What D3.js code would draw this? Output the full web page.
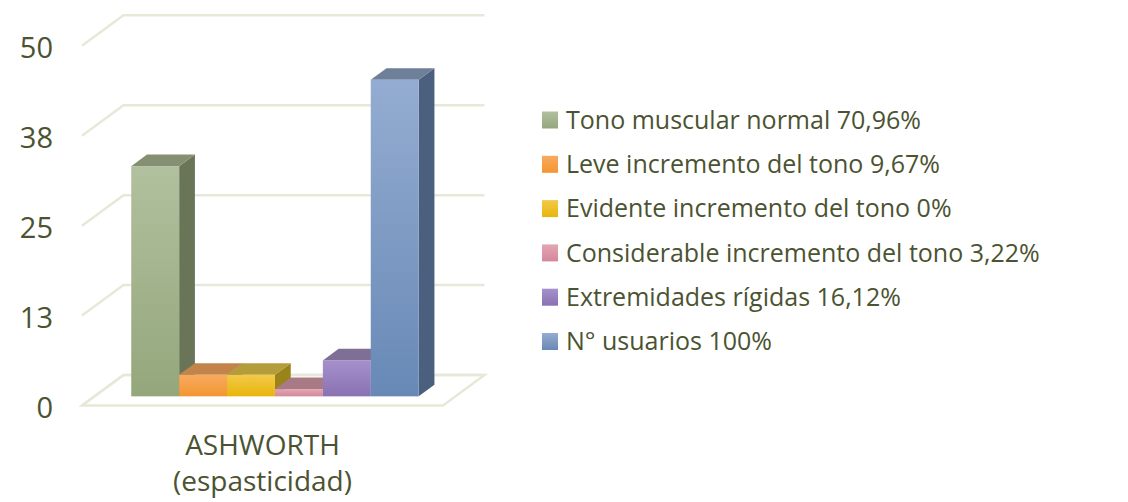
<!DOCTYPE html>
<html>
<head>
<meta charset="utf-8">
<script src="https://cdn.jsdelivr.net/npm/d3@7"></script>
<style>
  body { margin: 0; background: #fff; }
  text { font-family: "Open Sans", sans-serif; fill: #4b5331; }
</style>
</head>
<body>
<div id="chart"></div>
<script>
// data
var category = "ASHWORTH";
var seriesNames = [
  "Tono muscular normal 70,96%",
  "Leve incremento del tono 9,67%",
  "Evidente incremento del tono 0%",
  "Considerable incremento del tono 3,22%",
  "Extremidades rígidas 16,12%",
  "N° usuarios 100%"
];
var seriesValues = [32, 3, 3, 1, 5, 44];
var tickValues = [0, 12.5, 25, 37.5, 50];
var tickLabels = ["0", "13", "25", "38", "50"];

// front-top, front-bottom, top face, side face
var palette = [
  ["#b1c09e", "#94a77c", "#858f72", "#6a7558"],
  ["#f9aa5f", "#f29631", "#c2844b", "#a86a26"],
  ["#f2c94a", "#e8b60a", "#b39c3a", "#9a8318"],
  ["#e2a6b4", "#d4879c", "#a87a86", "#9a6476"],
  ["#a690cc", "#8a72b2", "#7f6f95", "#67567f"],
  ["#94acd1", "#6889b6", "#6d7f99", "#4b5f7e"]
];

var width = 1128, height = 502;
var depth = { dx: 41.5, dy: -30.5 };      // full floor depth
var barDepth = { from: 0.3, to: 0.68 };   // bars sit in the middle of the floor

var svg = d3.select("#chart").append("svg")
  .attr("width", width)
  .attr("height", height);

var defs = svg.append("defs");

// value scale on the back wall
var yScale = d3.scaleLinear().domain([0, 50]).range([375, 15.3]);

// category along the front edge of the floor
var xCat = d3.scaleBand().domain([category]).range([82, 443]).paddingOuter(0.128);
var xSeries = d3.scaleBand().domain(seriesNames).range([0, xCat.bandwidth()]);

function project(x, v, d) {
  // x on the front edge, value v, depth fraction d (0 front, 1 back)
  return [x + d * depth.dx, yScale(v) + (1 - d) * (-depth.dy)];
}

var gridColor = "#e7e9d8";
var x0 = xCat.range()[0], x1 = xCat.range()[1];

// gridlines: back wall + left side
var grid = svg.append("g");
tickValues.forEach(function(v) {
  var a = project(x0, v, 0), b = project(x0, v, 1), c = project(x1, v, 1);
  grid.append("polyline")
    .attr("points", [a, b, c].map(function(p) { return p.join(","); }).join(" "))
    .attr("fill", "none")
    .attr("stroke", gridColor)
    .attr("stroke-width", 2.5);
});

// floor outline
var floorPts = [project(x0, 0, 0), project(x1, 0, 0), project(x1, 0, 1), project(x0, 0, 1)];
grid.append("polygon")
  .attr("points", floorPts.map(function(p) { return p.join(","); }).join(" "))
  .attr("fill", "none")
  .attr("stroke", gridColor)
  .attr("stroke-width", 2.5);

// axis labels
svg.append("g").selectAll("text")
  .data(tickValues)
  .enter().append("text")
    .attr("x", 53)
    .attr("y", function(d) { return project(x0, d, 0)[1] + 2; })
    .attr("dy", "0.35em")
    .attr("text-anchor", "end")
    .style("font-size", "29px")
    .text(function(d, i) { return tickLabels[i]; });

// gradients
palette.forEach(function(c, i) {
  var g = defs.append("linearGradient")
    .attr("id", "grad" + i)
    .attr("x1", 0).attr("y1", 0).attr("x2", 0).attr("y2", 1);
  g.append("stop").attr("offset", "0%").attr("stop-color", c[0]);
  g.append("stop").attr("offset", "100%").attr("stop-color", c[1]);
});

function pts(arr) { return arr.map(function(p) { return p.join(","); }).join(" "); }

var bars = svg.append("g");
seriesNames.forEach(function(name, i) {
  var v = seriesValues[i];
  var xl = xCat(category) + xSeries(name);
  var xr = xl + xSeries.bandwidth();
  var f = barDepth.from, b = barDepth.to;

  var side = [project(xr, 0, f), project(xr, v, f), project(xr, v, b), project(xr, 0, b)];
  var top = [project(xl, v, f), project(xr, v, f), project(xr, v, b), project(xl, v, b)];
  var fl = project(xl, v, f), fr = project(xr, 0, f);

  bars.append("polygon").attr("points", pts(side)).attr("fill", palette[i][3]);
  bars.append("polygon").attr("points", pts(top)).attr("fill", palette[i][2]);
  bars.append("rect")
    .attr("x", fl[0])
    .attr("y", fl[1])
    .attr("width", fr[0] - fl[0])
    .attr("height", Math.max(0, fr[1] - fl[1]))
    .attr("fill", "url(#grad" + i + ")");
});

// category label
var cx = xCat(category) + xCat.bandwidth() / 2;
var catLabel = svg.append("text")
  .attr("x", cx)
  .attr("y", 455)
  .attr("text-anchor", "middle")
  .style("font-size", "28px");
catLabel.append("tspan").attr("x", cx).text(category);
catLabel.append("tspan").attr("x", cx).attr("dy", 36).text("(espasticidad)");

// legend
var legend = svg.append("g").attr("transform", "translate(542,120)");
var rows = legend.selectAll("g")
  .data(seriesNames)
  .enter().append("g")
    .attr("transform", function(d, i) { return "translate(0," + (i * 44.3) + ")"; });

rows.append("rect")
  .attr("x", 0).attr("y", -8.5)
  .attr("width", 16).attr("height", 17)
  .attr("fill", function(d, i) { return "url(#grad" + i + ")"; });

rows.append("text")
  .attr("x", 24)
  .attr("y", 0)
  .attr("dy", "0.35em")
  .style("font-size", "25px")
  .text(function(d) { return d; });
</script>
</body>
</html>
